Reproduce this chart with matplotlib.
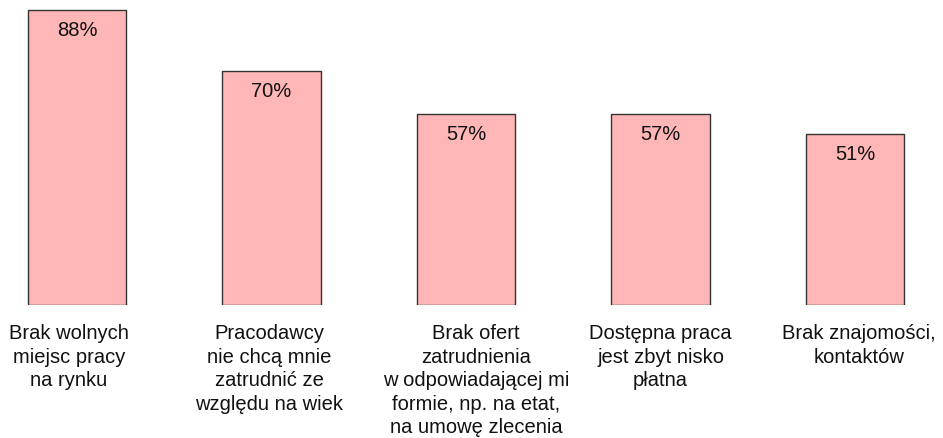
import numpy as np
import matplotlib.pyplot as plt
import matplotlib.transforms as mtransforms

plt.rcParams['font.family'] = ['Liberation Sans', 'DejaVu Sans']

# dane
kategorie = [
    'Brak wolnych\nmiejsc pracy\nna rynku',
    'Pracodawcy\nnie chcą mnie\nzatrudnić ze\nwzględu na wiek',
    'Brak ofert\nzatrudnienia\nw odpowiadającej mi\nformie, np. na etat,\nna umowę zlecenia',
    'Dostępna praca\njest zbyt nisko\npłatna',
    'Brak znajomości,\nkontaktów',
]
wartosci = [88, 70, 57, 57, 51]
etykiety = ['88%', '70%', '57%', '57%', '51%']

# przesuniecie podpisow w poziomie (piksele), tak jak w oryginale
przesuniecia = [-8, -2, 10, 0, 4]

fig = plt.figure(figsize=(9.43, 4.39), dpi=100)
ax = fig.add_axes([0, 1 - 306 / 439, 1, 306 / 439])

x = np.arange(len(wartosci))
ax.bar(x, wartosci, width=0.505, color='#ffb6b6', edgecolor='#333333', linewidth=1)

for xi, v, lab in zip(x, wartosci, etykiety):
    ax.text(xi, v - 3.0, lab, ha='center', va='top', fontsize=14.5, color='#111111')

ax.set_xlim(-77 / 194.5, (943 - 77) / 194.5)
ax.set_ylim(0, 306 / 3.35)
ax.set_xticks(x)
ax.set_xticklabels(kategorie, fontsize=14.5, color='#111111', linespacing=1.3)
ax.tick_params(axis='x', length=0, pad=13)
for lbl, dx in zip(ax.get_xticklabels(), przesuniecia):
    lbl.set_transform(lbl.get_transform() + mtransforms.ScaledTranslation(dx / 100, 0, fig.dpi_scale_trans))
ax.set_yticks([])
for s in ax.spines.values():
    s.set_visible(False)

fig.savefig('out.png', dpi=100)
